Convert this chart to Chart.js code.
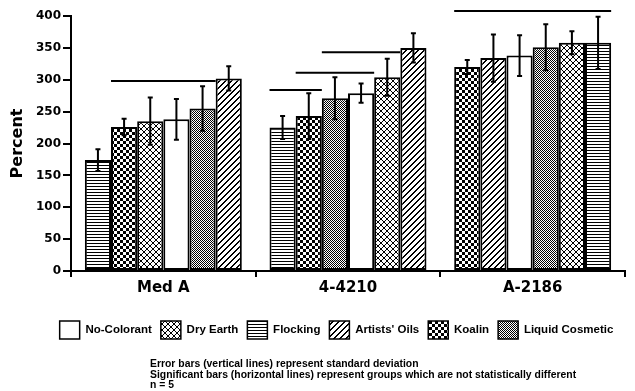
<!DOCTYPE html>
<html>
<head>
<meta charset="utf-8">
<script src="https://cdn.jsdelivr.net/npm/chart.js@4"></script>
<style>
  html, body { margin: 0; padding: 0; background: #fff; }
  #wrap { position: relative; width: 635px; height: 391px; }
  #notes { position: absolute; left: 150px; top: 359px; font: bold 10.4px 'Liberation Sans', Arial, sans-serif; line-height: 10.5px; color: #000; white-space: nowrap; }
</style>
</head>
<body>
<div id="wrap">
  <canvas id="chart" width="635" height="391"></canvas>
  <div id="notes">Error bars (vertical lines) represent standard deviation<br>Significant bars (horizontal lines) represent groups which are not statistically different<br>n = 5</div>
</div>
<script>
// Groups on the x axis and colorants (legend order)
const groups = ['Med A', '4-4210', 'A-2186'];
const colorants = ['No-Colorant', 'Dry Earth', 'Flocking', "Artists' Oils", 'Koalin', 'Liquid Cosmetic'];

// Mean percent per group (Med A, 4-4210, A-2186)
const noColorant = [238, 279, 338];
const dryEarth = [235, 304, 358];
const flocking = [174, 225, 358];
const artistsOils = [302, 350, 334];
const koalin = [226, 243, 320];
const liquidCosmetic = [255, 271, 351];

// Standard deviations, same order
const noColorantSd = [32, 15, 32];
const dryEarthSd = [37, 29, 18];
const flockingSd = [17, 18, 41];
const artistsOilsSd = [19, 23, 37];
const koalinSd = [13, 36, 11];
const liquidCosmeticSd = [35, 33, 36];

// Y axis ticks
const yTicks = [0, 50, 100, 150, 200, 250, 300, 350, 400];

// Significance bars: group, first and last bar (rank inside group), height
const sigGroup = [0, 1, 1, 1, 2];
const sigFrom = [1, 0, 1, 2, 0];
const sigTo = [4, 1, 3, 4, 5];
const sigValue = [298, 284, 311, 343, 408];

const means = [noColorant, dryEarth, flocking, artistsOils, koalin, liquidCosmetic];
const sds = [noColorantSd, dryEarthSd, flockingSd, artistsOilsSd, koalinSd, liquidCosmeticSd];

// ---- fill patterns ----
function makePattern(w, h, draw) {
  const c = document.createElement('canvas');
  c.width = w; c.height = h;
  const g = c.getContext('2d');
  g.fillStyle = '#fff';
  g.fillRect(0, 0, w, h);
  g.fillStyle = '#000';
  draw(g);
  return g.createPattern(c, 'repeat');
}

const patterns = [
  '#ffffff',
  makePattern(6, 6, g => { for (let i = 0; i < 6; i++) { g.fillRect(i, i, 1, 1); g.fillRect(5 - i, i, 1, 1); } }),
  makePattern(1, 3, g => g.fillRect(0, 0, 1, 1)),
  makePattern(6, 6, g => { for (let i = 0; i < 6; i++) g.fillRect((5 - i + 6) % 6, i, 1, 1); for (let i = 0; i < 6; i++) g.fillRect((6 - i + 6) % 6, i, 1, 1); }),
  makePattern(6, 6, g => { g.fillRect(0, 0, 3, 3); g.fillRect(3, 3, 3, 3); }),
  makePattern(2, 2, g => { g.fillRect(0, 0, 1, 1); g.fillRect(1, 1, 1, 1); })
];

// bars are sorted by value inside every group
const order = groups.map((_, g) => colorants.map((_, c) => c).sort((a, b) => means[a][g] - means[b][g]));

const datasets = colorants.map((_, s) => ({
  label: 'rank ' + (s + 1),
  data: groups.map((_, g) => means[order[g][s]][g]),
  errors: groups.map((_, g) => sds[order[g][s]][g]),
  backgroundColor: groups.map((_, g) => patterns[order[g][s]])
}));

// Error bars
const errorBars = {
  id: 'errorBars',
  afterDatasetsDraw(chart) {
    const { ctx, scales: { y } } = chart;
    ctx.save();
    ctx.strokeStyle = '#000';
    ctx.lineWidth = 2;
    chart.data.datasets.forEach((ds, i) => {
      chart.getDatasetMeta(i).data.forEach((bar, j) => {
        const top = y.getPixelForValue(ds.data[j] + ds.errors[j]);
        const bot = y.getPixelForValue(ds.data[j] - ds.errors[j]);
        ctx.beginPath();
        ctx.moveTo(bar.x, top); ctx.lineTo(bar.x, bot);
        ctx.moveTo(bar.x - 2.5, top); ctx.lineTo(bar.x + 2.5, top);
        ctx.moveTo(bar.x - 2.5, bot); ctx.lineTo(bar.x + 2.5, bot);
        ctx.stroke();
      });
    });
    ctx.restore();
  }
};

// Horizontal significance bars
const sigLines = {
  id: 'sigLines',
  afterDraw(chart) {
    const { ctx, scales: { y } } = chart;
    ctx.save();
    ctx.strokeStyle = '#000';
    ctx.lineWidth = 2;
    sigValue.forEach((v, k) => {
      const a = chart.getDatasetMeta(sigFrom[k]).data[sigGroup[k]];
      const b = chart.getDatasetMeta(sigTo[k]).data[sigGroup[k]];
      const py = y.getPixelForValue(v);
      ctx.beginPath();
      ctx.moveTo(a.x - a.width / 2, py);
      ctx.lineTo(b.x + b.width / 2, py);
      ctx.stroke();
    });
    ctx.restore();
  }
};

// legend sits a bit right of the canvas centre
const legendShift = {
  id: 'legendShift',
  afterLayout(chart) {
    chart.legend.left += 48;
  }
};

const axisFont = { family: 'DejaVu Sans', weight: 'bold' };

new Chart(document.getElementById('chart'), {
  type: 'bar',
  data: { labels: groups, datasets },
  options: {
    responsive: false,
    animation: false,
    layout: { padding: { top: 16, right: 10, bottom: 42, left: 0 } },
    datasets: {
      bar: { categoryPercentage: 0.85, barPercentage: 1, borderWidth: 2, borderColor: '#000', borderSkipped: false }
    },
    plugins: {
      tooltip: { enabled: false },
      legend: {
        position: 'bottom',
        onClick: () => {},
        labels: {
          boxWidth: 20,
          boxHeight: 18,
          padding: 9,
          color: '#000',
          font: { family: 'Liberation Sans', weight: 'bold', size: 11.5 },
          generateLabels: () => colorants.map((name, i) => ({
            text: name, fillStyle: patterns[i], strokeStyle: '#000', lineWidth: 1.5, hidden: false
          }))
        }
      }
    },
    scales: {
      x: {
        afterFit: s => { s.height += 13; },
        grid: { offset: true, drawOnChartArea: false, tickLength: 6, color: '#000', lineWidth: 2 },
        border: { color: '#000', width: 2 },
        ticks: { color: '#000', padding: 2, font: { ...axisFont, size: 15 } }
      },
      y: {
        min: 0,
        max: 400,
        afterBuildTicks: s => { s.ticks = yTicks.map(v => ({ value: v })); },
        afterFit: s => { s.width = 71; },
        grid: { drawOnChartArea: false, tickLength: 8, color: '#000', lineWidth: 2 },
        border: { color: '#000', width: 2 },
        ticks: { color: '#000', padding: 2, font: { ...axisFont, size: 12 } },
        title: { display: true, text: 'Percent', color: '#000', padding: { top: 8, bottom: 4 }, font: { ...axisFont, size: 16 } }
      }
    }
  },
  plugins: [errorBars, sigLines, legendShift]
});
</script>
</body>
</html>
